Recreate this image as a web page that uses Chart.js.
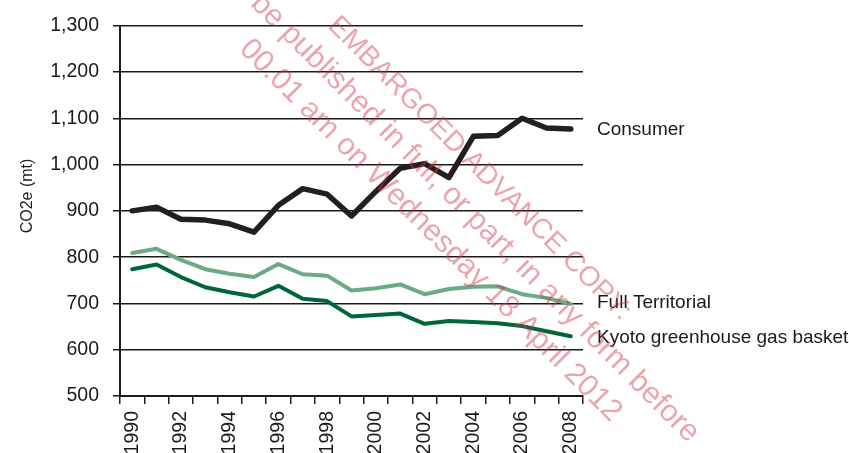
<!DOCTYPE html>
<html>
<head>
<meta charset="utf-8">
<title>CO2e emissions</title>
<script src="https://cdn.jsdelivr.net/npm/chart.js@4.4.1/dist/chart.umd.min.js"></script>
<style>
  html, body { margin: 0; padding: 0; background: #fff; }
  #wrap { width: 849px; height: 453px; }
</style>
</head>
<body>
<div id="wrap"><canvas id="co2Chart" width="849" height="453"></canvas></div>
<script>
// values, mt CO2e
const years = ['1990', '1991', '1992', '1993', '1994', '1995', '1996', '1997', '1998', '1999',
               '2000', '2001', '2002', '2003', '2004', '2005', '2006', '2007', '2008'];
const consumer = [900, 908, 882, 880, 872, 854, 912, 948, 936, 889, 942, 992, 1002, 972, 1061, 1063, 1100, 1079, 1077];
const fullTerritorial = [809, 818, 794, 774, 764, 757, 785, 763, 760, 728, 733, 741, 720, 731, 736, 737, 720, 712, 699];
const kyotoBasket = [774, 784, 757, 735, 724, 715, 738, 710, 705, 672, 675, 678, 656, 662, 660, 657, 651, 640, 629];
const seriesNames = ['Consumer', 'Full Territorial', 'Kyoto greenhouse gas basket'];
const yTitle = 'CO2e (mt)';
const watermark = [
    'EMBARGOED ADVANCE COPY:',
    'Not to be published in full, or part, in any form before',
    '00.01 am on Wednesday 18 April 2012'
];

const ink = '#1a1a1a';
const font = '"Liberation Sans", Arial, Helvetica, sans-serif';

// series names next to the last point of each line, plus the axis title and watermark
const annotate = {
    id: 'annotate',
    afterDraw(chart) {
        const ctx = chart.ctx;
        const area = chart.chartArea;
        const y = chart.scales.y;
        ctx.save();
        ctx.fillStyle = ink;
        ctx.font = '19px ' + font;
        ctx.textBaseline = 'middle';
        ctx.textAlign = 'left';
        const nudge = [1, -1, 1];
        chart.data.datasets.forEach((ds, i) => {
            const last = ds.data[ds.data.length - 1];
            ctx.fillText(ds.label, area.right + 14, y.getPixelForValue(last) + nudge[i]);
        });

        ctx.font = '16px ' + font;
        ctx.textAlign = 'center';
        ctx.translate(28, 196);
        ctx.rotate(-Math.PI / 2);
        ctx.fillText(yTitle, 0, 0);
        ctx.restore();

        // watermark lines, rotated 45 degrees; u along the text, n across it
        ctx.save();
        ctx.fillStyle = 'rgba(210, 50, 70, 0.45)';
        ctx.textBaseline = 'alphabetic';
        ctx.textAlign = 'left';
        const starts = [[250, 212, 28], [90, 173, 30.5], [204, 133, 30.5]];
        watermark.forEach((line, i) => {
            const [u, n, size] = starts[i];
            ctx.save();
            ctx.font = size + 'px ' + font;
            ctx.translate((u + n) / Math.SQRT2, (u - n) / Math.SQRT2);
            ctx.rotate(Math.PI / 4);
            ctx.fillText(line, 0, 0);
            ctx.restore();
        });
        ctx.restore();
    }
};

new Chart(document.getElementById('co2Chart'), {
    type: 'line',
    data: {
        labels: years,
        datasets: [
            { label: seriesNames[0], data: consumer, borderColor: '#231f20', borderWidth: 5.5 },
            { label: seriesNames[1], data: fullTerritorial, borderColor: '#6aab86', borderWidth: 4 },
            { label: seriesNames[2], data: kyotoBasket, borderColor: '#00663a', borderWidth: 4 }
        ]
    },
    options: {
        responsive: false,
        animation: false,
        devicePixelRatio: 1,
        layout: { padding: { top: 21, right: 266, left: 0, bottom: 0 } },
        elements: {
            point: { radius: 0 },
            line: { tension: 0, borderJoinStyle: 'round', borderCapStyle: 'round' }
        },
        plugins: {
            legend: { display: false },
            tooltip: { enabled: false }
        },
        scales: {
            x: {
                offset: true,
                grid: { offset: true, drawOnChartArea: false, drawTicks: true, tickLength: 8, color: ink, lineWidth: 1.5 },
                border: { display: true, color: ink, width: 2 },
                ticks: {
                    autoSkip: false,
                    minRotation: 90,
                    maxRotation: 90,
                    padding: 7,
                    color: ink,
                    font: { family: font, size: 19.5 },
                    callback: function (val, i) { return i % 2 === 0 ? this.getLabelForValue(val) : ''; }
                },
                afterFit(scale) { scale.height = 57; }
            },
            y: {
                min: 500,
                max: 1300,
                grid: { color: ink, lineWidth: 1.5, tickLength: 7 },
                border: { display: true, color: ink, width: 2 },
                ticks: { stepSize: 100, padding: 14, color: ink, font: { family: font, size: 19.5 } },
                afterFit(scale) { scale.width = 120; }
            }
        }
    },
    plugins: [annotate]
});
</script>
</body>
</html>
